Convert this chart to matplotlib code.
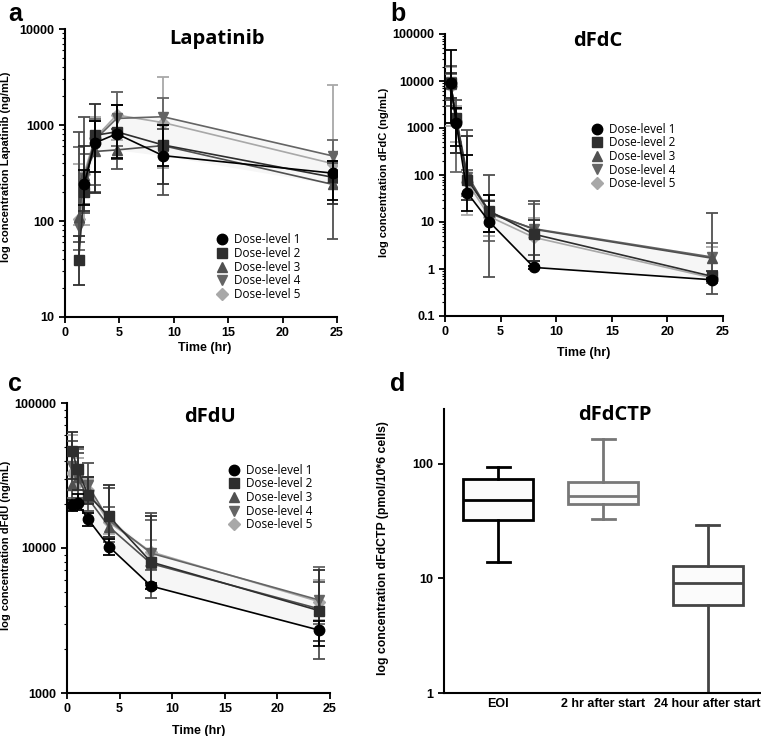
import numpy as np
import matplotlib
matplotlib.use('Agg')
import matplotlib.pyplot as plt

# ---- data ----
labels = ['Dose-level 1', 'Dose-level 2', 'Dose-level 3', 'Dose-level 4', 'Dose-level 5']
markers = ['o', 's', '^', 'v', 'D']
colors = ['#000000', '#2e2e2e', '#505050', '#646464', '#a8a8a8']

# Lapatinib
lap_t = [1.25, 1.75, 2.75, 4.75, 9.0, 24.65]
lap_val = [
    [np.nan, 240, 650, 810, 480, 315],
    [39, 200, 780, 850, 620, 285],
    [110, 300, 530, 550, 610, 240],
    [87, 280, 700, 1170, 1220, 475],
    [105, 310, 730, 1270, 1060, 395],
]
lap_lo = [
    [np.nan, 146, 326, 450, 370, 167],
    [21.5, 128, 195, 440, 240, 150],
    [60, 120, 200, 347, 186, 65],
    [50, 150, 236, 600, 600, 250],
    [90, 90, 236, 700, 360, 250],
]
lap_hi = [
    [np.nan, 340, 1100, 1600, 1000, 420],
    [70, 600, 1650, 1620, 1000, 420],
    [850, 1200, 1100, 900, 900, 400],
    [594, 500, 1150, 2230, 1930, 700],
    [392, 500, 1200, 2230, 3150, 2580],
]

# dFdC
dfdc_t = [0.5, 1, 2, 4, 8, 24]
dfdc_val = [
    [9100, 1280, 42, 10, 1.08, 0.59],
    [9000, 1630, 80, 17, 5.5, 0.7],
    [8500, 1700, 100, 16, 7, 1.7],
    [9500, 1500, 90, 15, 7.2, 1.8],
    [8000, 1400, 70, 13, 4.7, 0.65],
]
dfdc_lo = [
    [1290, 410, 17, 6, 1.0, 0.55],
    [4300, 290, 30, 6, 1.5, 0.6],
    [4000, 300, 40, 0.67, 2, 0.3],
    [3000, 115, 35, 4, 1.5, 0.5],
    [1080, 500, 14, 5, 2, 0.5],
]
dfdc_hi = [
    [46000, 2700, 260, 38, 1.15, 0.65],
    [14800, 2700, 660, 27.5, 11, 0.89],
    [21000, 3870, 920, 100, 28, 15.5],
    [14000, 2500, 128, 38, 24, 3.6],
    [20000, 3000, 260, 30, 12, 3.0],
]

# dFdU
dfdu_t = [0.5, 1, 2, 4, 8, 24]
dfdu_val = [
    [19800, 20400, 15800, 10200, 5460, 2710],
    [46300, 35000, 23200, 16500, 8000, 3690],
    [27200, 31000, 22000, 14000, 7800, 3800],
    [36500, 30000, 27000, 15500, 9200, 4370],
    [33000, 28000, 25000, 15000, 9400, 4260],
]
dfdu_lo = [
    [18000, 18300, 14200, 9000, 5200, 2100],
    [30000, 25000, 20000, 12000, 5600, 2300],
    [20000, 22000, 18000, 11000, 4500, 1720],
    [22000, 20000, 21000, 12000, 7000, 3000],
    [25000, 21000, 20500, 12500, 7500, 3200],
]
dfdu_hi = [
    [21500, 23500, 17500, 11600, 5700, 3150],
    [63000, 49600, 31000, 27200, 16500, 7050],
    [55000, 45000, 38500, 26000, 17500, 5820],
    [50000, 48000, 31000, 19300, 15500, 7350],
    [60000, 42000, 30000, 19300, 11300, 6000],
]

# dFdCTP box plots
box_names = ['EOI', '2 hr after start', '24 hour after start']
box_whislo = [13.8, 33, 1.0]
box_q1 = [32, 44.4, 5.9]
box_med = [48.7, 51.8, 9.2]
box_q3 = [73.5, 68.7, 12.8]
box_whishi = [93.5, 165, 29.4]
box_colors = ['#000000', '#777777', '#444444']

TICKFONT = 'Liberation Sans'
TITLEFONT = 'Open Sans'

fig = plt.figure(figsize=(7.61, 7.36), dpi=100)


def style_axes(ax):
    for s in ['top', 'right']:
        ax.spines[s].set_visible(False)
    for s in ['left', 'bottom']:
        ax.spines[s].set_linewidth(1.5)
    ax.tick_params(which='major', direction='out', length=4, width=1.3, labelsize=9)
    ax.tick_params(which='minor', direction='out', length=2, width=0.8)
    for lab in ax.get_xticklabels() + ax.get_yticklabels():
        lab.set_fontfamily(TICKFONT)
        lab.set_fontweight('bold')


def pk_panel(ax, t, vals, los, his, yticks, yticklabels, ylim, title, title_xy,
             ylabel, ylabel_xy, xlabel_xy, leg_xy):
    t = np.array(t, dtype=float)
    arr = np.array(vals, dtype=float)
    lo_env = np.nanmin(arr, axis=0)
    hi_env = np.nanmax(arr, axis=0)
    ax.fill_between(t, lo_env, hi_env, color='#f6f6f6', zorder=1, lw=0)
    handles = []
    for i in range(len(vals)):
        v = np.array(vals[i], dtype=float)
        yerr = np.array([v - np.array(los[i], dtype=float), np.array(his[i], dtype=float) - v])
        ms = 6 if markers[i] == 'D' else 7.5
        ax.errorbar(t, v, yerr=yerr, fmt='-', marker=markers[i], color=colors[i],
                    ms=ms, lw=1.2, elinewidth=1.3, capsize=4, capthick=1.3,
                    zorder=10 - i)
        h, = ax.plot([], [], ls='none', marker=markers[i], color=colors[i], ms=ms)
        handles.append(h)
    ax.set_yscale('log')
    ax.set_ylim(*ylim)
    ax.set_xlim(0, 25)
    ax.set_xticks([0, 5, 10, 15, 20, 25])
    ax.set_yticks(yticks)
    ax.set_yticklabels(yticklabels)
    ax.text(title_xy[0], title_xy[1], title, transform=ax.transAxes, ha='center', va='center',
            fontsize=14.5, fontweight='bold', family=TITLEFONT)
    ax.set_ylabel(ylabel, fontsize=8, fontweight='bold', family=TICKFONT)
    ax.yaxis.set_label_coords(*ylabel_xy)
    ax.set_xlabel('Time (hr)', fontsize=9, fontweight='bold', family=TICKFONT)
    ax.xaxis.set_label_coords(*xlabel_xy)
    ax.legend(handles, labels, loc='upper left', bbox_to_anchor=leg_xy, frameon=False,
              prop={'family': TITLEFONT, 'size': 8.5}, labelspacing=0.05,
              handlelength=1.0, handletextpad=0.5, borderpad=0, borderaxespad=0)
    style_axes(ax)


# panel a
ax_a = fig.add_axes([65 / 761, 1 - 317 / 736, 272 / 761, 288 / 736])
pk_panel(ax_a, lap_t, lap_val, lap_lo, lap_hi,
         [10, 100, 1000, 10000], ['10', '100', '1000', '10000'], (10, 10000),
         'Lapatinib', (0.56, 0.965), 'log concentration Lapatinib (ng/mL)',
         (-0.2, 0.52), (0.515, -0.087), (0.555, 0.29))

# panel b
ax_b = fig.add_axes([445 / 761, 1 - 316 / 736, 278 / 761, 282 / 736])
pk_panel(ax_b, dfdc_t, dfdc_val, dfdc_lo, dfdc_hi,
         [0.1, 1, 10, 100, 1000, 10000, 100000],
         ['0.1', '1', '10', '100', '1000', '10000', '100000'], (0.1, 100000),
         'dFdC', (0.55, 0.975), 'log concentration dFdC (ng/mL)',
         (-0.2, 0.51), (0.5, -0.11), (0.525, 0.685))

# panel c
ax_c = fig.add_axes([67 / 761, 43 / 736, 263 / 761, 290 / 736])
pk_panel(ax_c, dfdu_t, dfdu_val, dfdu_lo, dfdu_hi,
         [1000, 10000, 100000], ['1000', '10000', '100000'], (1000, 100000),
         'dFdU', (0.544, 0.953), 'log concentration dFdU (ng/mL)',
         (-0.212, 0.51), (0.5, -0.112), (0.612, 0.79))

# panel d
ax_d = fig.add_axes([444 / 761, 43 / 736, 316 / 761, 284 / 736])
for i in range(len(box_names)):
    st = {'med': box_med[i], 'q1': box_q1[i], 'q3': box_q3[i],
          'whislo': box_whislo[i], 'whishi': box_whishi[i], 'fliers': []}
    c = box_colors[i]
    ax_d.bxp([st], positions=[i], widths=0.67, capwidths=0.22, patch_artist=True,
             showfliers=False,
             boxprops=dict(facecolor='#fbfbfb', edgecolor=c, linewidth=2),
             medianprops=dict(color=c, linewidth=2),
             whiskerprops=dict(color=c, linewidth=2),
             capprops=dict(color=c, linewidth=2))
ax_d.set_yscale('log')
ax_d.set_ylim(1, 300)
ax_d.set_xlim(-0.52, 2.5)
ax_d.set_yticks([1, 10, 100])
ax_d.set_yticklabels(['1', '10', '100'])
ax_d.yaxis.set_minor_locator(matplotlib.ticker.NullLocator())
ax_d.set_xticks([0, 1, 2])
ax_d.set_xticklabels(box_names)
ax_d.text(0.54, 0.979, 'dFdCTP', transform=ax_d.transAxes, ha='center', va='center',
          fontsize=14.5, fontweight='bold', family=TITLEFONT)
ax_d.set_ylabel('log concentration dFdCTP (pmol/10*6 cells)', fontsize=8.8,
                fontweight='bold', family=TICKFONT)
ax_d.yaxis.set_label_coords(-0.174, 0.51)
style_axes(ax_d)
ax_d.tick_params(axis='x', length=0)

# panel letters
for lab, x, y in [('a', 8, 14), ('b', 390, 14), ('c', 8, 384), ('d', 390, 384)]:
    fig.text(x / 761, 1 - y / 736, lab, fontsize=18, fontweight='bold',
             family=TICKFONT, ha='left', va='center')

fig.savefig('out.png', dpi=100)
